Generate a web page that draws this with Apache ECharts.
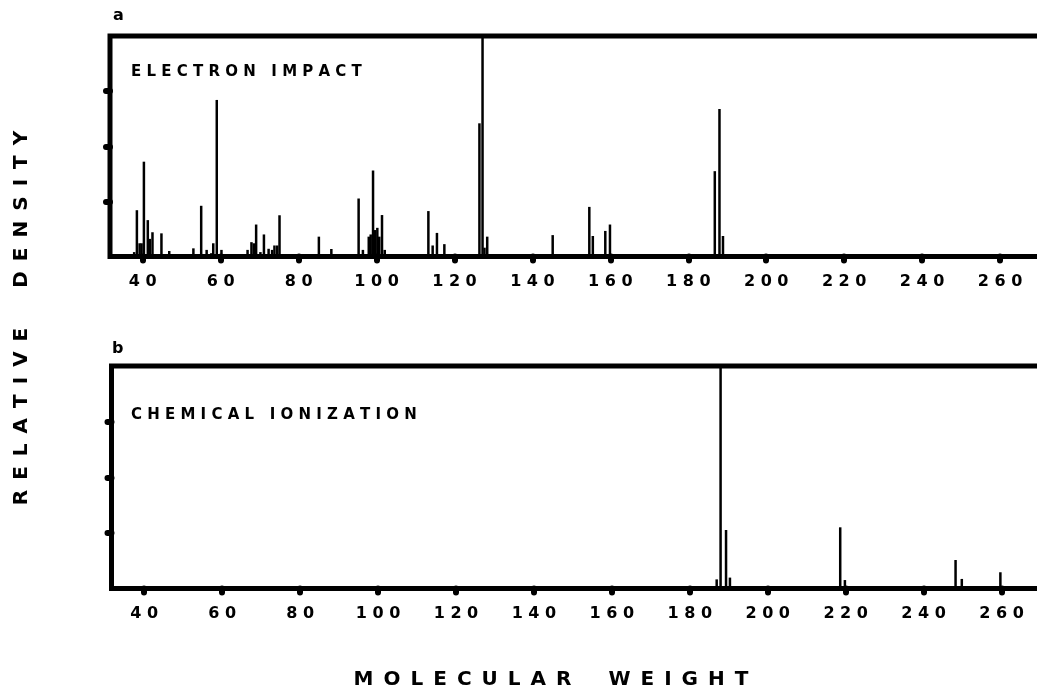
<!DOCTYPE html>
<html>
<head>
<meta charset="utf-8">
<script src="https://cdn.jsdelivr.net/npm/echarts@6/dist/echarts.min.js"></script>
<style>
  html, body { margin: 0; padding: 0; background: #fff; }
  #main { width: 1037px; height: 693px; }
</style>
</head>
<body>
<div id="main"></div>
<script>
  // electron impact spectrum (panel a): mass / relative density
  const eiMass = [37.8, 38.5, 39.2, 39.7, 40.3, 41.3, 41.8, 42.5, 44.8, 46.8,
    53.0, 55.0, 56.4, 57.6, 58.1, 59.0, 60.2, 66.9, 67.9, 68.5,
    69.1, 70.2, 71.1, 72.3, 73.2, 73.8, 74.5, 75.1, 85.2, 88.4,
    95.4, 96.5, 98.0, 98.5, 99.1, 99.6, 100.2, 100.7, 101.4, 102.1,
    113.3, 114.4, 115.5, 117.4, 126.4, 127.2, 127.7, 128.4, 145.2, 154.6,
    155.5, 158.7, 159.9, 186.8, 188.0, 188.9]
  const eiDensity = [2, 21, 6, 6, 43, 16.5, 8, 11, 10.5, 2.5,
    3.7, 23, 3, 1.5, 6, 71, 3, 3, 6.5, 6,
    14.5, 2, 10, 3.5, 3, 5, 5, 18.7, 9, 3.4,
    26.3, 3, 9, 10, 39, 12, 13, 9, 18.8, 3,
    20.6, 5, 10.7, 5.6, 60.4, 100, 4, 9, 9.7, 22.5,
    9.3, 11.6, 14.5, 38.7, 66.9, 9.3]

  // chemical ionization spectrum (panel b)
  const ciMass = [186.9, 187.9, 189.3, 190.3, 218.6, 219.8, 248.2, 249.8, 259.7]
  const ciDensity = [4.1, 100, 26.3, 4.9, 27.5, 3.8, 12.8, 4.3, 7.3]

  const xTicks = [40, 60, 80, 100, 120, 140, 160, 180, 200, 220, 240, 260]
  const yTicks = [25, 50, 75]

  const FONT = 'DejaVu Sans'
  const EN = '\u2002'

  // spread letters out like the old typewritten labels
  let spaced = (txt, sep, wordSep) => {
    return txt.split(' ').map(w => w.split('').join(sep)).join(wordSep)
  }

  let pairs = (xs, ys) => xs.map((x, i) => [x, ys[i]])

  let setGrid = (left, top, height) => {
    return {
      left, top, height,
      width: 948.5,
      show: true,
      borderColor: '#000',
      borderWidth: 5,
      outerBoundsMode: 'none'
    }
  }

  let setX = (gridIndex) => {
    return {
      type: 'value',
      gridIndex,
      min: 31.6,
      max: 275,
      axisLine: { show: false },
      splitLine: { show: false },
      axisTick: {
        customValues: xTicks,
        length: 4,
        lineStyle: { color: '#000', width: 6, cap: 'round' }
      },
      axisLabel: {
        customValues: xTicks,
        margin: 17,
        fontFamily: FONT,
        fontWeight: 'bold',
        fontSize: 16,
        color: '#000',
        formatter: (v) => String(v).split('').join(' ')
      }
    }
  }

  let setY = (gridIndex) => {
    return {
      type: 'value',
      gridIndex,
      min: 0,
      max: 100,
      axisLine: { show: false },
      splitLine: { show: false },
      axisLabel: { show: false },
      axisTick: {
        customValues: yTicks,
        length: 4,
        lineStyle: { color: '#000', width: 6, cap: 'round' }
      }
    }
  }

  let setBars = (idx, data) => {
    return {
      type: 'bar',
      xAxisIndex: idx,
      yAxisIndex: idx,
      barWidth: 2.5,
      itemStyle: { color: '#000' },
      data,
      silent: true,
      animation: false
    }
  }

  let textEl = (text, x, y, size, extra) => {
    return Object.assign({
      type: 'text',
      x, y,
      style: {
        text,
        fontFamily: FONT,
        fontWeight: 'bold',
        fontSize: size,
        fill: '#000',
        align: 'left',
        verticalAlign: 'middle'
      }
    }, extra || {})
  }

  const chart = echarts.init(document.getElementById('main'))
  chart.setOption({
    animation: false,
    grid: [setGrid(110, 36, 220.5), setGrid(111.5, 366, 222.5)],
    xAxis: [setX(0), setX(1)],
    yAxis: [setY(0), setY(1)],
    series: [
      setBars(0, pairs(eiMass, eiDensity)),
      setBars(1, pairs(ciMass, ciDensity))
    ],
    graphic: [
      textEl('a', 113, 16, 16),
      textEl('b', 112, 349, 16),
      textEl(spaced('ELECTRON IMPACT', ' ', '   '), 131, 72, 15),
      textEl(spaced('CHEMICAL IONIZATION', ' ', '   '), 131, 415, 15),
      {
        type: 'text',
        x: 22, y: 318,
        rotation: Math.PI / 2,
        style: {
          text: spaced('RELATIVE DENSITY', EN, EN + EN + EN + EN),
          fontFamily: FONT, fontWeight: 'bold', fontSize: 20, fill: '#000',
          align: 'center', verticalAlign: 'middle'
        }
      },
      {
        type: 'text',
        x: 551, y: 680,
        style: {
          text: spaced('MOLECULAR WEIGHT', EN, EN + EN + EN + ' '),
          fontFamily: FONT, fontWeight: 'bold', fontSize: 20, fill: '#000',
          align: 'center', verticalAlign: 'middle'
        }
      }
    ]
  })
</script>
</body>
</html>
